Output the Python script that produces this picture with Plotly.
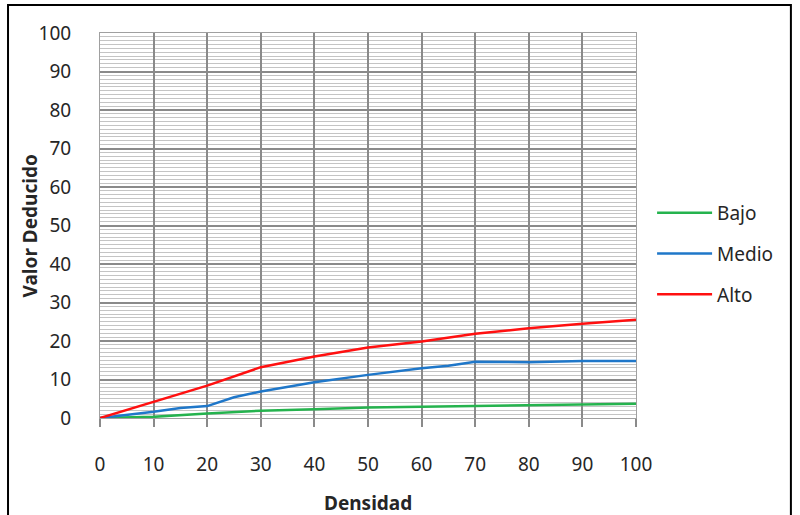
import plotly.graph_objects as go

densidad = [0, 10, 20, 30, 40, 50, 60, 70, 80, 90, 100]
bajo = [0, 0.3, 1.2, 1.9, 2.3, 2.7, 2.9, 3.1, 3.4, 3.6, 3.7]
medio_x = [0, 10, 15, 20, 25, 30, 40, 50, 60, 65, 70, 80, 90, 100]
medio = [0, 1.6, 2.6, 3.1, 5.4, 6.9, 9.3, 11.2, 12.9, 13.6, 14.6, 14.5, 14.8, 14.8]
alto = [0, 4.2, 8.4, 13.2, 16.0, 18.3, 19.9, 21.9, 23.3, 24.5, 25.5]

font_family = "Noto Sans, Open Sans, DejaVu Sans, sans-serif"
txt = "#262626"

fig = go.Figure()
fig.add_trace(go.Scatter(x=densidad, y=bajo, mode="lines", name="Bajo", legendgroup="b",
                         line=dict(color="#25b34e", width=2.5)))
fig.add_trace(go.Scatter(x=medio_x, y=medio, mode="lines", name="Medio", legendgroup="m",
                         line=dict(color="#1f77c9", width=2.5)))
fig.add_trace(go.Scatter(x=densidad, y=alto, mode="lines", name="Alto", legendgroup="a",
                         line=dict(color="#ff1010", width=2.5)))

fig.update_layout(
    width=800, height=515,
    margin=dict(l=100, r=164, t=33, b=97, autoexpand=False),
    paper_bgcolor="white", plot_bgcolor="white",
    font=dict(family=font_family, color=txt, size=19),
    showlegend=True,
    legend=dict(x=1.03, y=0.426, xanchor="left", yanchor="middle",
                font=dict(size=19, color=txt), tracegroupgap=13,
                itemwidth=55, bgcolor="rgba(0,0,0,0)"),
    xaxis=dict(range=[0, 100], dtick=10, tick0=0, showgrid=True, automargin=False,
               gridcolor="#8a8a8a", gridwidth=1.5,
               ticks="outside", ticklen=8, tickcolor="#8a8a8a", tickwidth=1.5,
               ticklabelstandoff=21,
               showline=True, linecolor="#a0a0a0", mirror=True, linewidth=1,
               zeroline=False,
               tickfont=dict(size=19, color=txt)),
    yaxis=dict(range=[0, 100], dtick=10, tick0=0, showgrid=True, automargin=False,
               gridcolor="#8a8a8a", gridwidth=1.5,
               minor=dict(dtick=1, showgrid=True, gridcolor="#c4c4c4", gridwidth=1),
               ticks="", ticklabelstandoff=24,
               showline=True, linecolor="#a0a0a0", mirror=True, linewidth=1,
               zeroline=False,
               tickfont=dict(size=19, color=txt)),
    annotations=[
        dict(text="<b>Densidad</b>", xref="paper", yref="paper", x=0.5, y=-0.2208,
             xanchor="center", yanchor="middle", showarrow=False,
             font=dict(size=19, color=txt)),
        dict(text="<b>Valor Deducido</b>", xref="paper", yref="paper", x=-0.1306, y=0.5,
             xanchor="center", yanchor="middle", showarrow=False, textangle=-90,
             font=dict(size=19, color=txt)),
    ],
)

# outer frame around the chart
fig.add_shape(type="rect", xref="paper", yref="paper",
              x0=-0.1716, x1=1.289, y0=-0.3, y1=1.0727,
              line=dict(color="black", width=2), fillcolor="rgba(0,0,0,0)", layer="above")

fig.write_html("out.html")
